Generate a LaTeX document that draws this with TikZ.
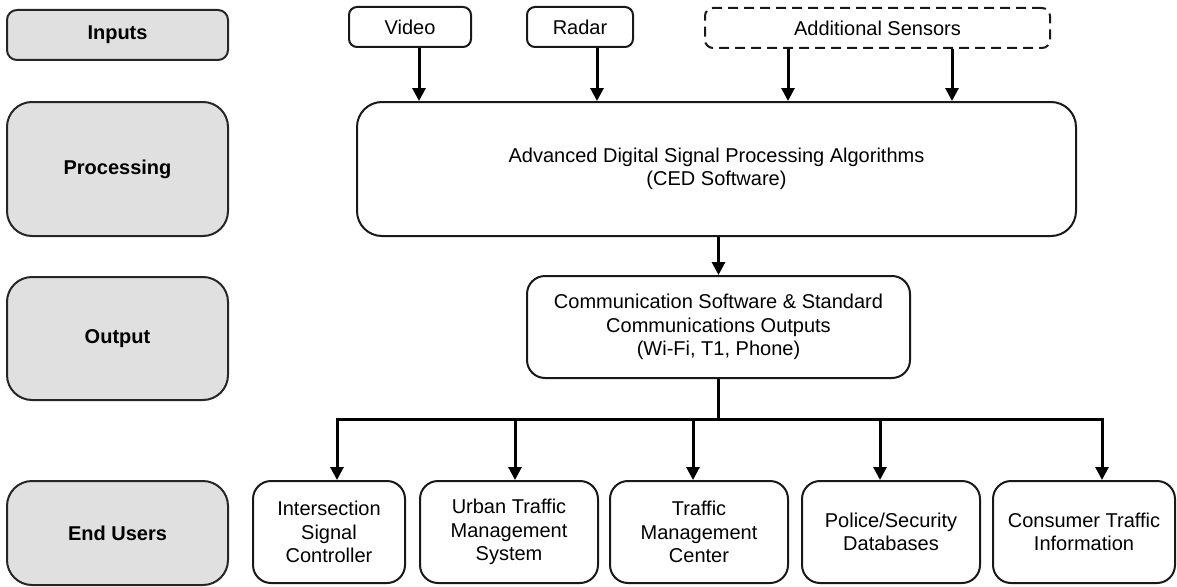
\documentclass[tikz,border=0pt]{standalone}
\usepackage{fontspec}
\setmainfont{Liberation Sans}
\usetikzlibrary{arrows.meta,calc}
\begin{document}
\begin{tikzpicture}[x=1pt,y=-1pt,
  txt/.style={font=\fontsize{20}{23.3}\selectfont, align=center, inner sep=0pt},
  label/.style={txt, font=\fontsize{20}{23.3}\selectfont\bfseries, draw=black!85, line width=2pt, fill=black!12, rectangle},
  box/.style={txt, draw=black!90, line width=2pt, fill=white, rectangle},
  arr/.style={line width=3pt, -{Triangle[length=13pt,width=13pt]}},
  bar/.style={line width=3pt}
]
\useasboundingbox (0,0) rectangle (1177,586);
% left labels
\node[label, rounded corners=10pt, minimum width=221pt, minimum height=50pt] (linputs) at (117.5,35) {Inputs};
\node[label, rounded corners=25pt, minimum width=221pt, minimum height=134pt] (lproc) at (117.5,169) {Processing};
\node[label, rounded corners=25pt, minimum width=221pt, minimum height=123pt] (lout) at (117.5,338.5) {Output};
\node[label, rounded corners=25pt, minimum width=221pt, minimum height=104pt] (lend) at (117.5,533) {End Users};
% inputs
\node[box, rounded corners=8pt, minimum width=122pt, minimum height=40pt] (video) at (410,27) {Video};
\node[box, rounded corners=8pt, minimum width=106pt, minimum height=40pt] (radar) at (580,27) {Radar};
\node[box, rounded corners=8pt, dash pattern=on 10pt off 6pt, minimum width=345pt, minimum height=40pt] (addl) at (877.5,28) {Additional Sensors};
% processing
\node[box, rounded corners=25pt, minimum width=719pt, minimum height=134pt] (proc) at (716.5,169) {Advanced Digital Signal Processing Algorithms\\(CED Software)};
% output
\node[box, rounded corners=18pt, minimum width=383pt, minimum height=102pt] (out) at (718.5,327) {Communication Software \& Standard\\Communications Outputs\\(Wi-Fi, T1, Phone)};
% end users
\node[box, rounded corners=18pt, minimum width=152pt, minimum height=102pt] (eu1) at (329,532) {Intersection\\Signal\\Controller};
\node[box, rounded corners=18pt, minimum width=178pt, minimum height=102pt] (eu2) at (509,532) {Urban Traffic\\Management\\System};
\node[box, rounded corners=18pt, minimum width=178pt, minimum height=102pt] (eu3) at (699,532) {Traffic\\Management\\Center};
\node[box, rounded corners=18pt, minimum width=178pt, minimum height=102pt] (eu4) at (891,532) {Police/Security\\Databases};
\node[box, rounded corners=18pt, minimum width=182pt, minimum height=102pt] (eu5) at (1084,532) {Consumer Traffic\\Information};
% input arrows
\draw[arr] ([xshift=9pt]video.south) -- ([xshift=9pt]video.south |- proc.north);
\draw[arr] ([xshift=17pt]radar.south) -- ([xshift=17pt]radar.south |- proc.north);
\draw[arr] ([xshift=-89.5pt]addl.south) -- ([xshift=-89.5pt]addl.south |- proc.north);
\draw[arr] ([xshift=74.5pt]addl.south) -- ([xshift=74.5pt]addl.south |- proc.north);
% processing to output
\draw[arr] ([xshift=2pt]proc.south) -- ([xshift=2pt]proc.south |- out.north);
% output to end users
\coordinate (bus) at ($(out.south)+(0,40)$);
\coordinate (a1) at ([xshift=8pt]eu1.north);
\coordinate (a2) at ([xshift=6pt]eu2.north);
\coordinate (a3) at ([xshift=-6pt]eu3.north);
\coordinate (a4) at ([xshift=-11pt]eu4.north);
\coordinate (a5) at ([xshift=18pt]eu5.north);
\draw[arr] (out.south) -- (bus) -| (a1);
\draw[arr] (bus) -| (a5);
\draw[arr] (bus -| a2) -- (a2);
\draw[arr] (bus -| a3) -- (a3);
\draw[arr] (bus -| a4) -- (a4);
\end{tikzpicture}
\end{document}
